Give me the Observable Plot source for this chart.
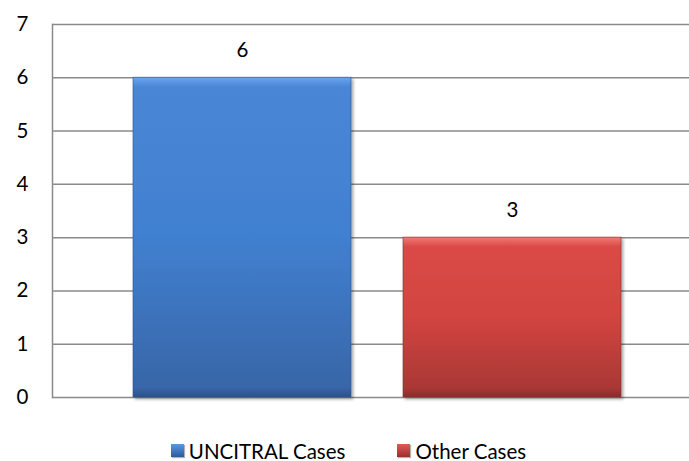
<!DOCTYPE html>
<html>
<head>
<meta charset="utf-8">
<script src="https://cdn.jsdelivr.net/npm/d3@7"></script>
<script src="https://cdn.jsdelivr.net/npm/@observablehq/plot@0.6"></script>
<style>
  html, body { margin: 0; padding: 0; background: #fff; }
  #chart { width: 689px; height: 461px; position: relative; font-family: Lato, "Noto Sans", sans-serif; }
  .legend { display: flex; justify-content: center; align-items: center; gap: 52px; height: 41px; padding-top: 20px; box-sizing: border-box; font-size: 20.5px; color: #000; padding-left: 8px; }
  .legend span.item { display: inline-flex; align-items: center; gap: 5px; }
  .legend span.sw { width: 13px; height: 13px; display: inline-block; box-shadow: 1px 1px 1px rgba(0,0,0,0.3); }
</style>
</head>
<body>
<div id="chart"></div>
<script>
const categories = ["UNCITRAL Cases", "Other Cases"];
const values = [6, 3];
const yTicks = [0, 1, 2, 3, 4, 5, 6, 7];
const gradIds = ["gBlue", "gRed"];
const swatchColors = ["#5a98e6", "#e05a56"];

const data = categories.map((c, i) => ({category: c, value: values[i], grad: gradIds[i]}));

const defs = () => {
  const ns = "http://www.w3.org/2000/svg";
  const d = document.createElementNS(ns, "defs");
  d.innerHTML = `
    <linearGradient id="gBlue" x1="0" y1="0" x2="0" y2="1">
      <stop offset="0" stop-color="#6aa6ec"/>
      <stop offset="0.03" stop-color="#4a86d6"/>
      <stop offset="0.5" stop-color="#4180d0"/>
      <stop offset="0.97" stop-color="#3866a8"/>
      <stop offset="1" stop-color="#2c5288"/>
    </linearGradient>
    <linearGradient id="gRed" x1="0" y1="0" x2="0" y2="1">
      <stop offset="0" stop-color="#f07a76"/>
      <stop offset="0.06" stop-color="#da4a46"/>
      <stop offset="0.5" stop-color="#d24440"/>
      <stop offset="0.94" stop-color="#aa3835"/>
      <stop offset="1" stop-color="#8a2c2a"/>
    </linearGradient>
    <filter id="shadow" x="-10%" y="-10%" width="125%" height="125%">
      <feDropShadow dx="2" dy="2" stdDeviation="1.5" flood-color="#000" flood-opacity="0.35"/>
    </filter>`;
  return d;
};

const chart = Plot.plot({
  width: 689,
  height: 420,
  marginLeft: 52,
  marginRight: 0,
  marginTop: 24,
  marginBottom: 23,
  style: {fontFamily: "Lato, 'Noto Sans', sans-serif", fontSize: "20px", color: "#000", background: "#fff"},
  x: {domain: categories, range: [133, 621], paddingInner: 0.193, paddingOuter: 0, axis: null},
  y: {domain: [0, 7], label: null},
  marks: [
    defs,
    Plot.ruleY(yTicks, {stroke: "#8a8a8a", strokeWidth: 1.5, strokeOpacity: 1}),
    Plot.frame({anchor: "left", stroke: "#8a8a8a", strokeWidth: 1.5}),
    Plot.axisY({ticks: yTicks, tickSize: 0, tickPadding: 24, tickFormat: d => String(d), fontSize: 20.5, label: null}),
    ...data.map(d => Plot.barY([d], {x: "category", y: "value", fill: `url(#${d.grad})`,
      stroke: d.grad === "gBlue" ? "#2d558c" : "#8e2e2c", strokeWidth: 1, strokeOpacity: 0.6})),
    Plot.text(data, {x: "category", y: "value", text: d => String(d.value), dy: -27, fontSize: 20.5, fill: "#000"})
  ]
});
chart.querySelectorAll("g[aria-label='bar']").forEach(g => g.setAttribute("filter", "url(#shadow)"));

const root = document.getElementById("chart");
root.appendChild(chart);
const legend = document.createElement("div");
legend.className = "legend";
categories.forEach((c, i) => {
  const item = document.createElement("span");
  item.className = "item";
  const sw = document.createElement("span");
  sw.className = "sw";
  sw.style.background = `linear-gradient(${swatchColors[i]}, ${i === 0 ? "#2c5a98" : "#9a302e"})`;
  item.appendChild(sw);
  item.appendChild(document.createTextNode(c));
  legend.appendChild(item);
});
root.appendChild(legend);
</script>
</body>
</html>
